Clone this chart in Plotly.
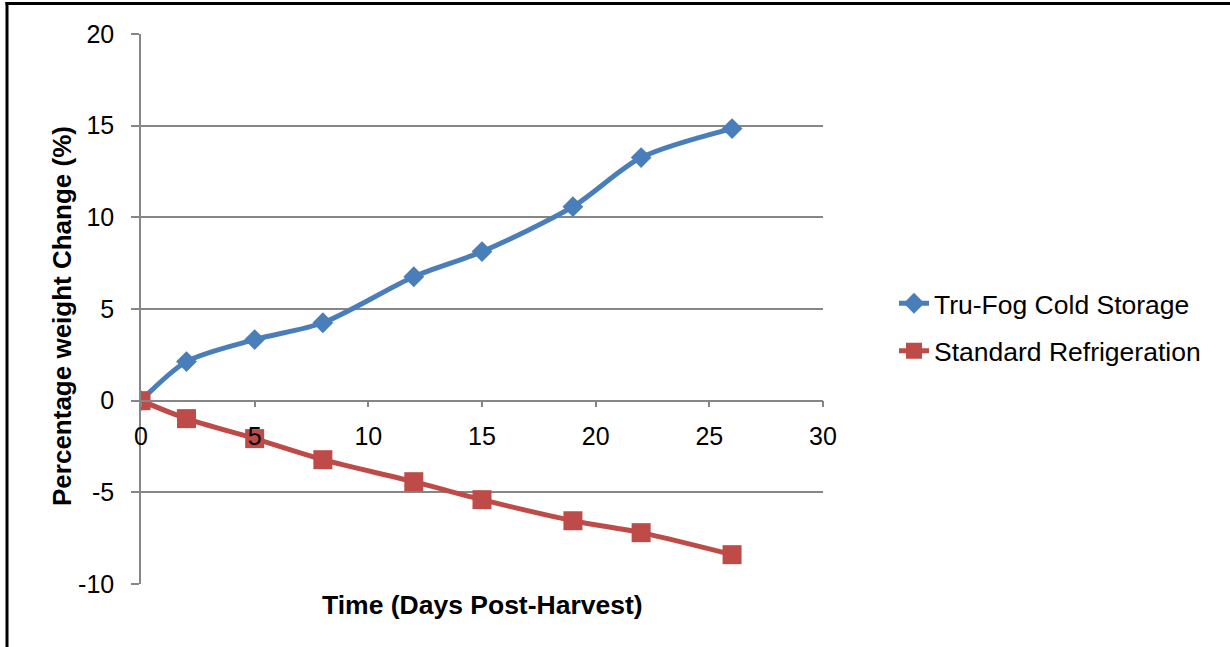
import plotly.graph_objects as go

days = [0, 2, 5, 8, 12, 15, 19, 22, 26]
trufog = [0, 2.13, 3.33, 4.25, 6.76, 8.13, 10.58, 13.26, 14.84]
standard = [0, -0.98, -2.07, -3.22, -4.42, -5.40, -6.55, -7.20, -8.40]

x_ticks = [0, 5, 10, 15, 20, 25, 30]
x_tick_labels = ["0", "5", "10", "15", "20", "25", "30"]
y_ticks = [-10, -5, 0, 5, 10, 15, 20]
y_tick_labels = ["-10", "-5", "0", "5", "10", "15", "20"]

W, H = 1230, 647
L, R, T, B = 141, 823, 34, 584

def px(xs):
    return (xs - L) / (R - L)

def py(ys):
    return (B - ys) / (B - T)

FONT = "Liberation Sans, Arial, sans-serif"
GRID = "#868686"

fig = go.Figure()
fig.add_trace(go.Scatter(
    x=days, y=trufog, name="Tru-Fog Cold Storage", mode="lines+markers",
    legendgroup="a",
    line=dict(color="#4A7EBB", width=5, shape="spline", smoothing=0.8),
    marker=dict(symbol="diamond", size=16, color="#4A7EBB"),
))
fig.add_trace(go.Scatter(
    x=days, y=standard, name="Standard Refrigeration", mode="lines+markers",
    legendgroup="b",
    line=dict(color="#BE4B48", width=5, shape="spline", smoothing=0.8),
    marker=dict(symbol="square", size=19, color="#BE4B48"),
))

fig.update_layout(
    width=W, height=H,
    margin=dict(l=L, r=W - R, t=T, b=H - B, autoexpand=False),
    paper_bgcolor="white", plot_bgcolor="white",
    font=dict(family=FONT, size=25, color="black"),
    xaxis=dict(
        range=[0, 30], tickvals=x_ticks, ticktext=x_tick_labels,
        anchor="free", position=1/3,
        showline=True, linecolor=GRID, linewidth=1.5,
        ticks="outside", ticklen=6, tickcolor=GRID, tickwidth=1.5,
        showgrid=False, zeroline=False, automargin=False,
        tickfont=dict(size=25), ticklabelstandoff=8,
    ),
    yaxis=dict(
        range=[-10, 20], tickvals=y_ticks, ticktext=y_tick_labels,
        showline=True, linecolor=GRID, linewidth=1.5,
        ticks="outside", ticklen=8, tickcolor=GRID, tickwidth=1.5,
        showgrid=True, gridcolor=GRID, gridwidth=1.5, zeroline=False,
        automargin=False, tickfont=dict(size=25), ticklabelstandoff=12,
    ),
    legend=dict(
        x=px(894), y=py(327), xanchor="left", yanchor="middle",
        font=dict(size=26.5), bgcolor="rgba(0,0,0,0)",
        traceorder="grouped", tracegroupgap=10,
    ),
    showlegend=True,
    annotations=[
        dict(text="<b>Time (Days Post-Harvest)</b>", xref="paper", yref="paper",
             x=px(482), y=py(605), xanchor="center", yanchor="middle",
             showarrow=False, font=dict(size=26.5)),
        dict(text="<b>Percentage weight Change (%)</b>", xref="paper", yref="paper",
             x=px(62), y=py(316), xanchor="center", yanchor="middle",
             textangle=-90, showarrow=False, font=dict(size=26)),
    ],
    shapes=[
        dict(type="line", xref="paper", yref="paper",
             x0=px(5.5), x1=px(1235), y0=py(3.5), y1=py(3.5),
             line=dict(color="black", width=3)),
        dict(type="line", xref="paper", yref="paper",
             x0=px(7), x1=px(7), y0=py(2), y1=py(660),
             line=dict(color="black", width=3)),
    ],
)

fig.write_html("out.html", config={"displayModeBar": False},
               post_script="document.body.style.margin='0';")
